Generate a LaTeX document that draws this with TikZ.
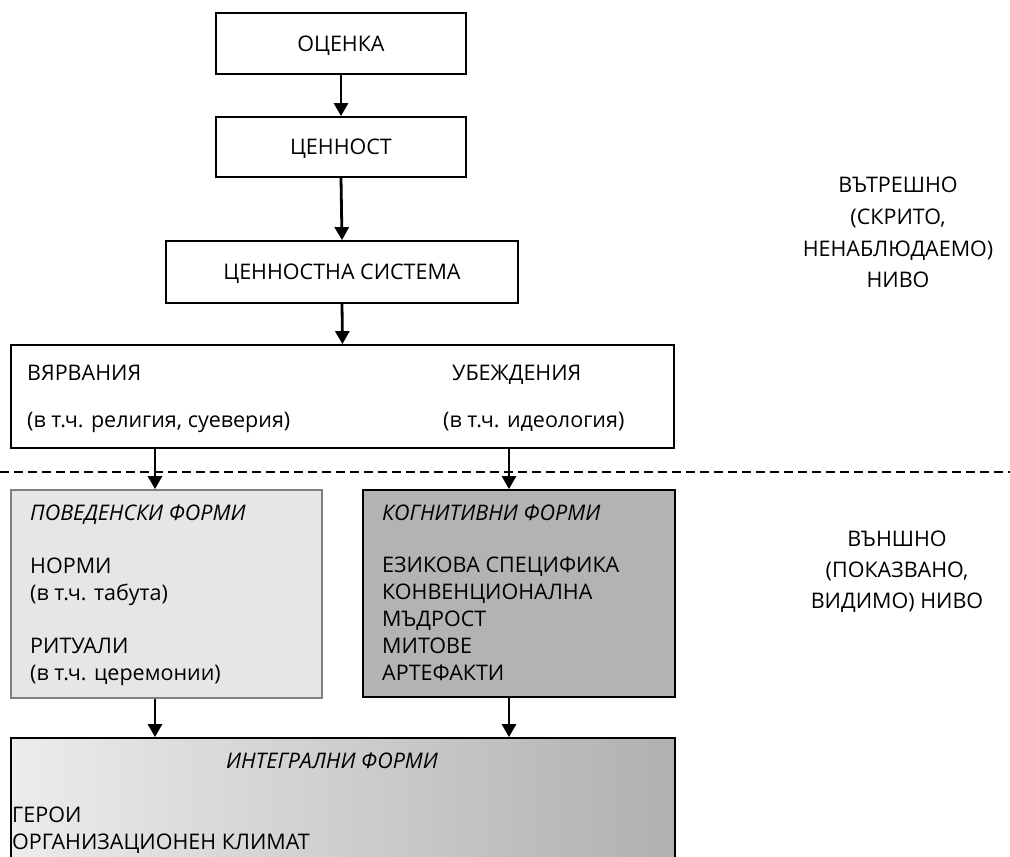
\documentclass[tikz,border=0pt]{standalone}
\usepackage{fontspec}
\setmainfont{Open Sans}[Script=Cyrillic,Language=Bulgarian]
\usetikzlibrary{arrows.meta}
\definecolor{behavfill}{HTML}{E6E6E6}
\definecolor{behavdraw}{HTML}{808080}
\definecolor{cognfill}{HTML}{B3B3B3}
\definecolor{gradL}{HTML}{ECECEC}
\definecolor{gradR}{HTML}{B0B0B0}
\tikzset{
  box/.style={draw=black, line width=1.8pt, fill=white, inner sep=0pt, text height=15.5pt, text depth=0pt},
  lbl/.style={anchor=base west, inner sep=0pt},
  side/.style={anchor=base, inner sep=0pt},
  arr/.style={line width=2.8pt, -{Triangle[length=13pt,width=14pt]}},
  sep/.style={line width=2.2pt, dash pattern=on 9pt off 5pt}
}
\begin{document}
\begin{tikzpicture}[x=1pt,y=-1pt,font=\fontsize{21.5}{26}\selectfont]
\useasboundingbox (0,0) rectangle (1010,857);
\clip (0,0) rectangle (1010,857);
% separator
\coordinate (sepL) at (0,472);
\coordinate (sepR) at (1010,472);
\draw[sep] (sepL) -- (sepR);
% top chain
\node[box, minimum width=250pt, minimum height=61pt] (ocenka) at (341,43.5) {ОЦЕНКА};
\node[box, minimum width=250pt, minimum height=60pt] (cennost) at (341,147) {ЦЕННОСТ};
\node[box, minimum width=352pt, minimum height=62pt] (sistema) at (342,272) {ЦЕННОСТНА СИСТЕМА};
\node[box, minimum width=663pt, minimum height=103pt] (vjarv) at (342.5,396.5) {};
\node[lbl] (v1) at (27,380) {ВЯРВАНИЯ};
\node[lbl] (v2) at (27,427) {(в т.ч. религия, суеверия)};
\node[lbl] (u1) at (452,380) {УБЕЖДЕНИЯ};
\node[lbl] (u2) at (443,427) {(в т.ч. идеология)};
% forms
\node[draw=behavdraw, fill=behavfill, line width=1.8pt, minimum width=311pt, minimum height=208pt, inner sep=0pt] (behav) at (166.5,594) {};
\node[draw=black, fill=cognfill, line width=1.8pt, minimum width=312pt, minimum height=207pt, inner sep=0pt] (cogn) at (519,593.5) {};
\node[lbl] (b0) at (30,520) {\itshape ПОВЕДЕНСКИ ФОРМИ};
\node[lbl] (b1) at (30,573) {НОРМИ};
\node[lbl] (b2) at (30,600) {(в т.ч. табута)};
\node[lbl] (b3) at (30,653) {РИТУАЛИ};
\node[lbl] (b4) at (30,680) {(в т.ч. церемонии)};
\node[lbl] (c0) at (382,520) {\itshape КОГНИТИВНИ ФОРМИ};
\node[lbl] (c1) at (382,572) {ЕЗИКОВА СПЕЦИФИКА};
\node[lbl] (c2) at (382,599) {КОНВЕНЦИОНАЛНА};
\node[lbl] (c3) at (382,626) {МЪДРОСТ};
\node[lbl] (c4) at (382,653) {МИТОВЕ};
\node[lbl] (c5) at (382,680) {АРТЕФАКТИ};
% integral
\node[draw=black, left color=gradL, right color=gradR, line width=1.8pt, minimum width=664pt, minimum height=160pt, inner sep=0pt] (integ) at (343,818) {};
\node[side] (i0) at (332,768) {\itshape ИНТЕГРАЛНИ ФОРМИ};
\node[lbl] (i1) at (12,822) {ГЕРОИ};
\node[lbl] (i2) at (12,849) {ОРГАНИЗАЦИОНЕН КЛИМАТ};
% side labels
\node[side] (r1) at (898,192) {ВЪТРЕШНО};
\node[side] (r2) at (898,224) {(СКРИТО,};
\node[side] (r3) at (898,256) {НЕНАБЛЮДАЕМО)};
\node[side] (r4) at (898,287) {НИВО};
\node[side] (s1) at (897,546) {ВЪНШНО};
\node[side] (s2) at (897,577) {(ПОКАЗВАНО,};
\node[side] (s3) at (897,608) {ВИДИМО) НИВО};
% arrows
\coordinate (xa) at (155,0);
\coordinate (xb) at (509,0);
\draw[arr] (ocenka.south) -- (cennost.north);
\draw[arr] (cennost.south) -- (sistema.north);
\draw[arr] (sistema.south) -- (vjarv.north);
\draw[arr] (vjarv.south -| xa) -- (behav.north -| xa);
\draw[arr] (vjarv.south -| xb) -- (cogn.north -| xb);
\draw[arr] (behav.south -| xa) -- (integ.north -| xa);
\draw[arr] (cogn.south -| xb) -- (integ.north -| xb);
\end{tikzpicture}
\end{document}
